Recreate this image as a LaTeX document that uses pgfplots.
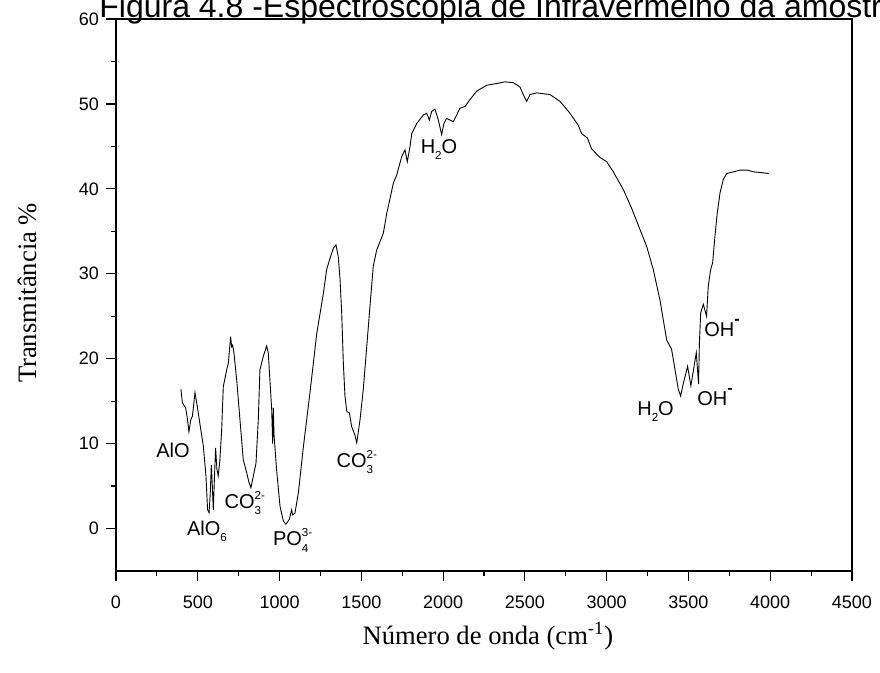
\documentclass[border=0pt]{standalone}
\usepackage{fontspec}
\setmainfont{Liberation Sans}
\newfontfamily\tnr{Liberation Serif}
\usepackage{pgfplots}
\pgfplotsset{compat=1.18}
\newcommand{\supsub}[2]{\rlap{\raisebox{0.85ex}{\fontsize{5.8}{5.8}\selectfont #1}}\raisebox{-0.6ex}{\fontsize{5.8}{5.8}\selectfont #2}\phantom{\fontsize{5.8}{5.8}\selectfont #1}}
\newcommand{\sub}[1]{\raisebox{-0.6ex}{\fontsize{5.8}{5.8}\selectfont #1}}
\newcommand{\minus}{\raisebox{1.15ex}{\fontsize{8}{8}\selectfont\textbf{-}}}
\begin{document}
\begin{tikzpicture}
\begin{axis}[
  scale only axis, width=368pt, height=276pt,
  xmin=0, xmax=4500, ymin=-5, ymax=60,
  xtick={0,500,...,4500}, ytick={0,10,...,60},
  minor x tick num=1, minor y tick num=1,
  xtick pos=bottom, ytick pos=left,
  tick align=outside,
  major tick length=5pt, minor tick length=2.5pt,
  every tick/.style={black, line width=0.6pt},
  axis line style={line width=1pt},
  ticklabel style={font=\fontsize{9}{9}\selectfont},
  xticklabel style={yshift=-4pt},
  /pgf/number format/assume math mode=true,
  /pgf/number format/1000 sep={},
  clip=false,
  every node/.append style={font=\fontsize{9.6}{9.6}\selectfont},
]
\addplot[black, line width=0.45pt] coordinates {
(397,16.4)(406,14.8)(416,14.5)(426,14.2)(436,13.0)(446,11.4)(457,12.8)(467,13.2)(483,16.0)(497,14.4)
(514,12.2)(534,9.7)(550,6.2)(560,2.2)(569,1.85)(576,4.0)(583,7.5)(589,5.0)(595,2.2)(602,6.0)
(609,9.5)(617,7.0)(625,6.2)(635,8.0)(646,11.6)(656,16.7)(677,18.7)(687,19.5)(701,22.6)(707,21.4)
(713,21.6)(721,20.7)(738,17.5)(758,12.8)(778,8.1)(799,6.6)(812,5.5)(825,4.8)(840,6.2)(856,7.7)
(870,12.8)(880,18.7)(901,20.3)(921,21.5)(931,20.7)(941,17.5)(952,14.0)(958,10.0)(962,14.2)(966,11.1)
(982,6.9)(1003,2.6)(1023,0.9)(1039,0.5)(1060,1.1)(1074,2.2)(1080,1.6)(1094,1.8)(1115,4.2)(1145,9.5)
(1186,16.0)(1227,22.9)(1268,27.7)(1288,30.5)(1308,31.8)(1329,33.0)(1345,33.4)(1359,32.0)(1370,29.3)(1380,25.4)
(1390,19.5)(1400,15.6)(1411,13.8)(1427,13.6)(1441,12.0)(1461,11.0)(1472,10.1)(1492,12.8)(1512,16.4)(1533,21.4)
(1553,26.2)(1573,30.9)(1594,32.8)(1635,34.8)(1655,37.1)(1675,38.8)(1696,40.7)(1716,41.6)(1747,43.8)(1767,44.6)
(1781,43.2)(1798,45.0)(1808,46.5)(1839,47.7)(1879,48.7)(1900,48.9)(1916,48.1)(1930,49.1)(1950,49.4)(1971,48.1)
(1991,46.4)(2005,47.7)(2022,48.3)(2042,48.1)(2062,47.9)(2083,48.7)(2103,49.5)(2134,49.7)(2164,50.5)(2205,51.5)
(2266,52.2)(2327,52.4)(2378,52.6)(2429,52.5)(2470,52.0)(2490,51.1)(2511,50.3)(2531,51.1)(2572,51.3)(2654,51.1)
(2715,50.3)(2776,48.9)(2826,47.5)(2847,46.5)(2882,46.0)(2908,44.7)(2959,43.7)(3000,43.2)(3041,42.0)(3102,39.9)
(3153,37.7)(3204,35.2)(3245,33.2)(3285,30.5)(3326,26.9)(3367,22.2)(3397,21.1)(3418,18.7)(3438,16.4)(3452,15.6)
(3469,17.1)(3495,19.1)(3515,16.8)(3548,20.7)(3562,17.0)(3567,21.8)(3575,25.4)(3591,26.4)(3611,25.0)(3621,28.5)
(3636,30.5)(3648,31.3)(3662,34.4)(3676,37.1)(3693,39.5)(3713,41.1)(3734,41.8)(3774,42.0)(3815,42.2)(3860,42.2)
(3900,42.0)(3950,41.9)(3990,41.8)
};
\node at (axis cs:349,9.2) {AlO};
\node at (axis cs:556,-0.3) {AlO\sub{6}};
\node at (axis cs:807,3.0) {CO\supsub{2-}{3}};
\node at (axis cs:1100,-1.4) {PO\supsub{3-}{4}};
\node at (axis cs:1492,7.8) {CO\supsub{2-}{3}};
\node at (axis cs:1975,44.6) {H\sub{2}O};
\node at (axis cs:3299,13.8) {H\sub{2}O};
\node at (axis cs:3662,15.5) {OH\minus};
\node at (axis cs:3705,23.6) {OH\minus};
\end{axis}
\node[anchor=base west, font=\fontsize{16}{16}\selectfont, inner sep=0pt] at (-8.5pt,276.5pt) {Figura 4.8 -Espectroscopia de Infravermelho da amostra};
\node[anchor=base, font=\tnr\fontsize{13.3}{13.3}\selectfont, inner sep=0pt] at (186pt,-37pt) {Número de onda (cm\textsuperscript{-1})};
\node[rotate=90, anchor=center, font=\tnr\fontsize{13.3}{13.3}\selectfont, inner sep=0pt] at (-44.5pt,139pt) {Transmitância \%};
\pgfresetboundingbox
\path[use as bounding box] (-58pt,-51pt) rectangle (382pt,285.5pt);
\end{tikzpicture}
\end{document}
